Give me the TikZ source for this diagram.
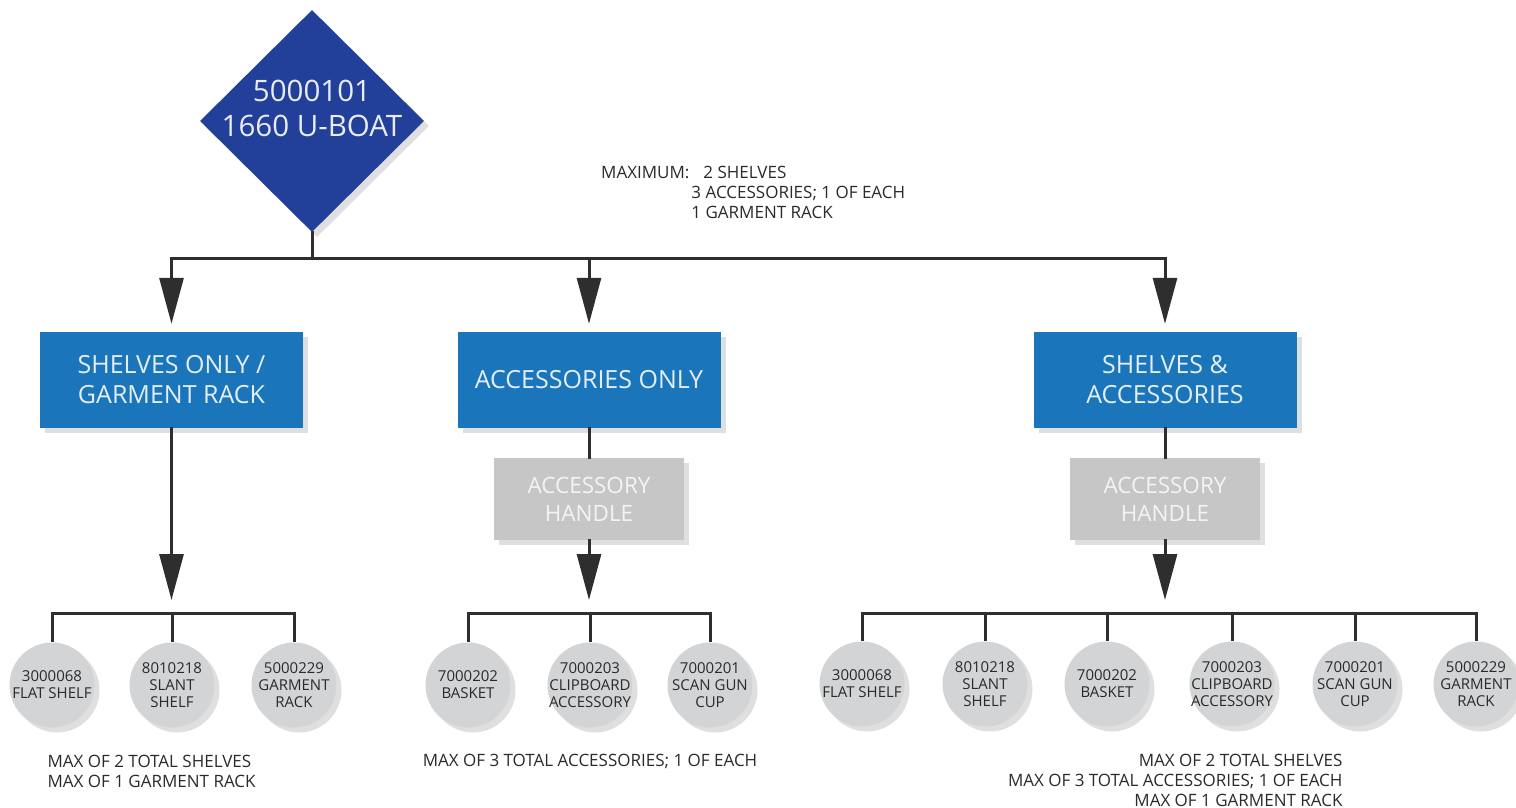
\documentclass[tikz,border=0pt]{standalone}
\usepackage{fontspec}
\setmainfont{Open Sans}
\usepackage{tikz}
\usetikzlibrary{arrows.meta,shapes.geometric,shadows}
\definecolor{uboat}{HTML}{22409A}
\definecolor{boxblue}{HTML}{1B75BB}
\definecolor{handlegray}{HTML}{C6C6C7}
\definecolor{partgray}{HTML}{D3D4D6}
\definecolor{wirecol}{HTML}{2E2E2E}
\definecolor{inkgray}{HTML}{2A2A2A}

\tikzset{
  shade/.style={drop shadow={shadow xshift=5pt,shadow yshift=-5pt,opacity=.25}},
  wire/.style={draw=wirecol,line width=3pt,line cap=rect},
  arrow/.style={wire,-{Triangle[width=24pt,length=46pt]},shorten >=8pt},
  kind/.style={rectangle,fill=boxblue,minimum width=263pt,minimum height=96pt,shade,
    text=white!88!boxblue,align=center,font=\fontsize{25}{30}\selectfont},
  handle/.style={rectangle,fill=handlegray,minimum width=190pt,minimum height=82pt,shade,
    text=white!80!handlegray,align=center,font=\fontsize{22.5}{28}\selectfont},
  part/.style={circle,fill=partgray,minimum size=85pt,inner sep=0pt,shade},
  parttext/.style={text=inkgray,align=center,font=\fontsize{15}{17}\selectfont},
  note/.style={text=inkgray,font=\fontsize{17}{20}\selectfont}
}

\begin{document}
\begin{tikzpicture}[x=1pt,y=-1pt]
\useasboundingbox (0,0) rectangle (1516,808);

% top
\node[diamond,fill=uboat,minimum width=224pt,minimum height=222pt,inner sep=0pt,shade] (root) at (312,121) {};
\node[text=white!90!uboat,align=center,font=\fontsize{29.5}{35}\selectfont] (rootlbl) at (312,108) {5000101\\1660 U-BOAT};
\node[note,anchor=north west,inner sep=0pt] (maxnote) at (601,164)
  {\begin{tabular}{@{}l@{\hspace{2pt}}l@{}}MAXIMUM: & \hspace{12pt}2 SHELVES\\ & 3 ACCESSORIES; 1 OF EACH\\ & 1 GARMENT RACK\end{tabular}};
\coordinate (topbar) at (0,258);

% option boxes
\node[kind] (shelf) at (171.5,380) {SHELVES ONLY /\\GARMENT RACK};
\node[kind] (acc) at (589,380) {ACCESSORIES ONLY};
\node[kind] (both) at (1165,380) {SHELVES \&\\ACCESSORIES};
\node[handle] (handleA) at (589,499) {ACCESSORY\\HANDLE};
\node[handle] (handleB) at (1165,499) {ACCESSORY\\HANDLE};
\coordinate (lowbar) at (0,613);

% parts
\node[part,label={[parttext]center:3000068\\FLAT SHELF}] (s1) at (52,685) {};
\node[part,label={[parttext]center:8010218\\SLANT\\SHELF}] (s2) at (172,685) {};
\node[part,label={[parttext]center:5000229\\GARMENT\\RACK}] (s3) at (294,685) {};
\node[part,label={[parttext]center:7000202\\BASKET}] (a1) at (468,685) {};
\node[part,label={[parttext]center:7000203\\CLIPBOARD\\ACCESSORY}] (a2) at (590,685) {};
\node[part,label={[parttext]center:7000201\\SCAN GUN\\CUP}] (a3) at (710,685) {};
\node[part,label={[parttext]center:3000068\\FLAT SHELF}] (b1) at (862,684) {};
\node[part,label={[parttext]center:8010218\\SLANT\\SHELF}] (b2) at (985,684) {};
\node[part,label={[parttext]center:7000202\\BASKET}] (b3) at (1107,684) {};
\node[part,label={[parttext]center:7000203\\CLIPBOARD\\ACCESSORY}] (b4) at (1232,684) {};
\node[part,label={[parttext]center:7000201\\SCAN GUN\\CUP}] (b5) at (1355,684) {};
\node[part,label={[parttext]center:5000229\\GARMENT\\RACK}] (b6) at (1476,684) {};

% limits
\node[note,anchor=west,align=left] (noteS) at (44,771) {MAX OF 2 TOTAL SHELVES\\MAX OF 1 GARMENT RACK};
\node[note] (noteA) at (590,761) {MAX OF 3 TOTAL ACCESSORIES; 1 OF EACH};
\node[note,anchor=east,align=right] (noteB) at (1346,780) {MAX OF 2 TOTAL SHELVES\\MAX OF 3 TOTAL ACCESSORIES; 1 OF EACH\\MAX OF 1 GARMENT RACK};

% connectors
\draw[wire] (root.south) -- (root.south |- topbar);
\draw[wire] (shelf.north |- topbar) -- (both.north |- topbar);
\foreach \b in {shelf,acc,both}
  \draw[arrow] (\b.north |- topbar) -- (\b.north);
\draw[arrow,shorten >=13pt] (shelf.south) -- (shelf.south |- lowbar);
\draw[wire] (acc.south) -- (handleA.north);
\draw[arrow,shorten >=13pt] (handleA.south) -- (handleA.south |- lowbar);
\draw[wire] (both.south) -- (handleB.north);
\draw[arrow,shorten >=13pt] (handleB.south) -- (handleB.south |- lowbar);
\draw[wire] (s1.north |- lowbar) -- (s3.north |- lowbar);
\draw[wire] (a1.north |- lowbar) -- (a3.north |- lowbar);
\draw[wire] (b1.north |- lowbar) -- (b6.north |- lowbar);
\foreach \c in {s1,s2,s3,a1,a2,a3,b1,b2,b3,b4,b5,b6}
  \draw[wire,line cap=butt] (\c.north |- lowbar) -- (\c.north);
\end{tikzpicture}
\end{document}
